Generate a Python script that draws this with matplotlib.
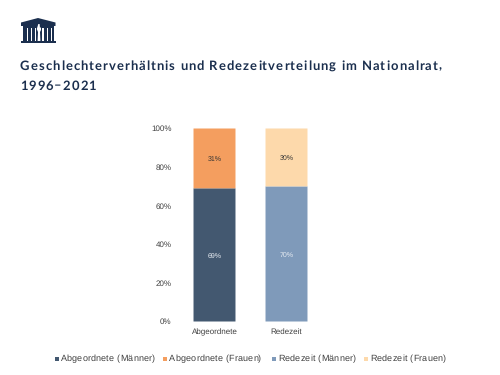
import matplotlib
matplotlib.use("Agg")
import matplotlib.pyplot as plt
from matplotlib.patches import Polygon, Rectangle
from matplotlib.text import Text

plt.rcParams["text.hinting"] = "no_hinting"
plt.rcParams["text.hinting_factor"] = 1

categories = ["Abgeordnete", "Redezeit"]
maenner = [69, 70]
frauen = [31, 30]
maenner_labels = ["69%", "70%"]
frauen_labels = ["31%", "30%"]
yticks = [0, 20, 40, 60, 80, 100]
legend_labels = ["Abgeordnete (Männer)", "Abgeordnete (Frauen)", "Redezeit (Männer)", "Redezeit (Frauen)"]
title_lines = ["Geschlechterverhältnis und Redezeitverteilung im Nationalrat,", "1996–2021"]

NAVY = "#1b2f4e"
GREY = "#404040"
C_AM, C_AF, C_RM, C_RF = "#435870", "#f49e5f", "#7f9aba", "#fdd9ab"
W, H = 500, 375


class SpacedText(Text):
    """One text object whose glyphs are drawn with extra tracking (in pixels)."""
    tracking = 0.0

    def draw(self, renderer):
        s = self.get_text()
        x0, y0 = self.get_transform().transform(self.get_position())
        probe = Text(0, 0, "", fontproperties=self.get_fontproperties(), color=self.get_color(),
                     va="baseline", ha="left", transform=None, figure=self.get_figure())
        for i, ch in enumerate(s):
            adv = 0
            if i:
                w, _, _ = renderer.get_text_width_height_descent(s[:i + 1], self.get_fontproperties(), False)
                c, _, _ = renderer.get_text_width_height_descent(ch, self.get_fontproperties(), False)
                adv = w - c
            probe.set_text(ch)
            probe.set_position((x0 + adv + i * self.tracking, y0))
            probe.draw(renderer)


def spaced(px, py, s, tracking, **kw):
    t = SpacedText(px / W, 1 - py / H, s, transform=fig.transFigure, va="baseline", ha="left", **kw)
    t.tracking = tracking
    fig.add_artist(t)
    return t


fig = plt.figure(figsize=(5, 3.75), dpi=100, facecolor="white")
ax = fig.add_axes([178.5 / W, 1 - 321.5 / H, 144 / W, 193 / H])
x = range(len(categories))
bot = ax.bar(x, maenner, width=0.583, color=[C_AM, C_RM])
top = ax.bar(x, frauen, width=0.583, bottom=maenner, color=[C_AF, C_RF])
for b in list(bot) + list(top):
    b.set_snap(False)
for b, s in zip(bot, maenner_labels):
    ax.annotate(s, (b.get_x() + b.get_width() / 2, b.get_height() / 2), xytext=(0, -1), textcoords="offset points",
                ha="center", va="center", fontsize=5.4, color="#e8edf3", family="Liberation Sans")
for b, s in zip(top, frauen_labels):
    ax.annotate(s, (b.get_x() + b.get_width() / 2, b.get_y() + b.get_height() / 2), xytext=(0, -0.5),
                textcoords="offset points", ha="center", va="center", fontsize=5.4, color="#333333",
                family="Liberation Sans")
ax.set_xlim(-0.5, 1.5)
ax.set_ylim(0, 100)
ax.set_xticks(list(x), categories, fontsize=5.8, family="Liberation Sans", color=GREY)
ax.set_yticks(yticks, [f"{v}%" for v in yticks], fontsize=5.8, family="Liberation Sans", color=GREY)
ax.tick_params(length=0, pad=5)
ax.tick_params(axis="x", pad=5)
for s in ax.spines.values():
    s.set_visible(False)

spaced(20, 69.5, title_lines[0], 1.03, fontsize=9.4, fontweight="bold", family="Lato", color=NAVY)
spaced(20, 89.5, title_lines[1], 1.03, fontsize=9.4, fontweight="bold", family="Lato", color=NAVY)

# Legend
mx = [56.5, 165, 273.5, 365.5]
tx = [60.5, 169, 278, 370]
for m, t, lab, c in zip(mx, tx, legend_labels, [C_AM, C_AF, C_RM, C_RF]):
    fig.add_artist(Rectangle(((m - 2) / W, 1 - 360.7 / H), 4 / W, 4 / H, color=c, transform=fig.transFigure, lw=0))
    spaced(t, 361, lab, 0.2, fontsize=6.2, family="Liberation Sans", color=GREY)


# Logo
def P(pts, color=NAVY):
    fig.add_artist(Polygon([(px / W, 1 - py / H) for px, py in pts], closed=True, color=color, lw=0,
                           transform=fig.transFigure))


P([(21, 22.5), (38, 18), (55.5, 22.5), (55.5, 26), (21, 26)])
P([(22.5, 26), (54, 26), (54, 41), (22.5, 41)])
P([(20.7, 41), (55.7, 41), (55.7, 42.7), (20.7, 42.7)])
for sx in [26.7, 31, 35.2, 42.3, 46.5, 50.5]:
    P([(sx, 28), (sx + 1.2, 28), (sx + 1.2, 40.5), (sx, 40.5)], "white")
P([(38.3, 24), (39.6, 24), (40, 28), (41, 27), (41, 30), (40, 32), (40.4, 41), (37.6, 41), (38, 32), (36.8, 29)], "white")
fig.savefig("out.png", dpi=100)
